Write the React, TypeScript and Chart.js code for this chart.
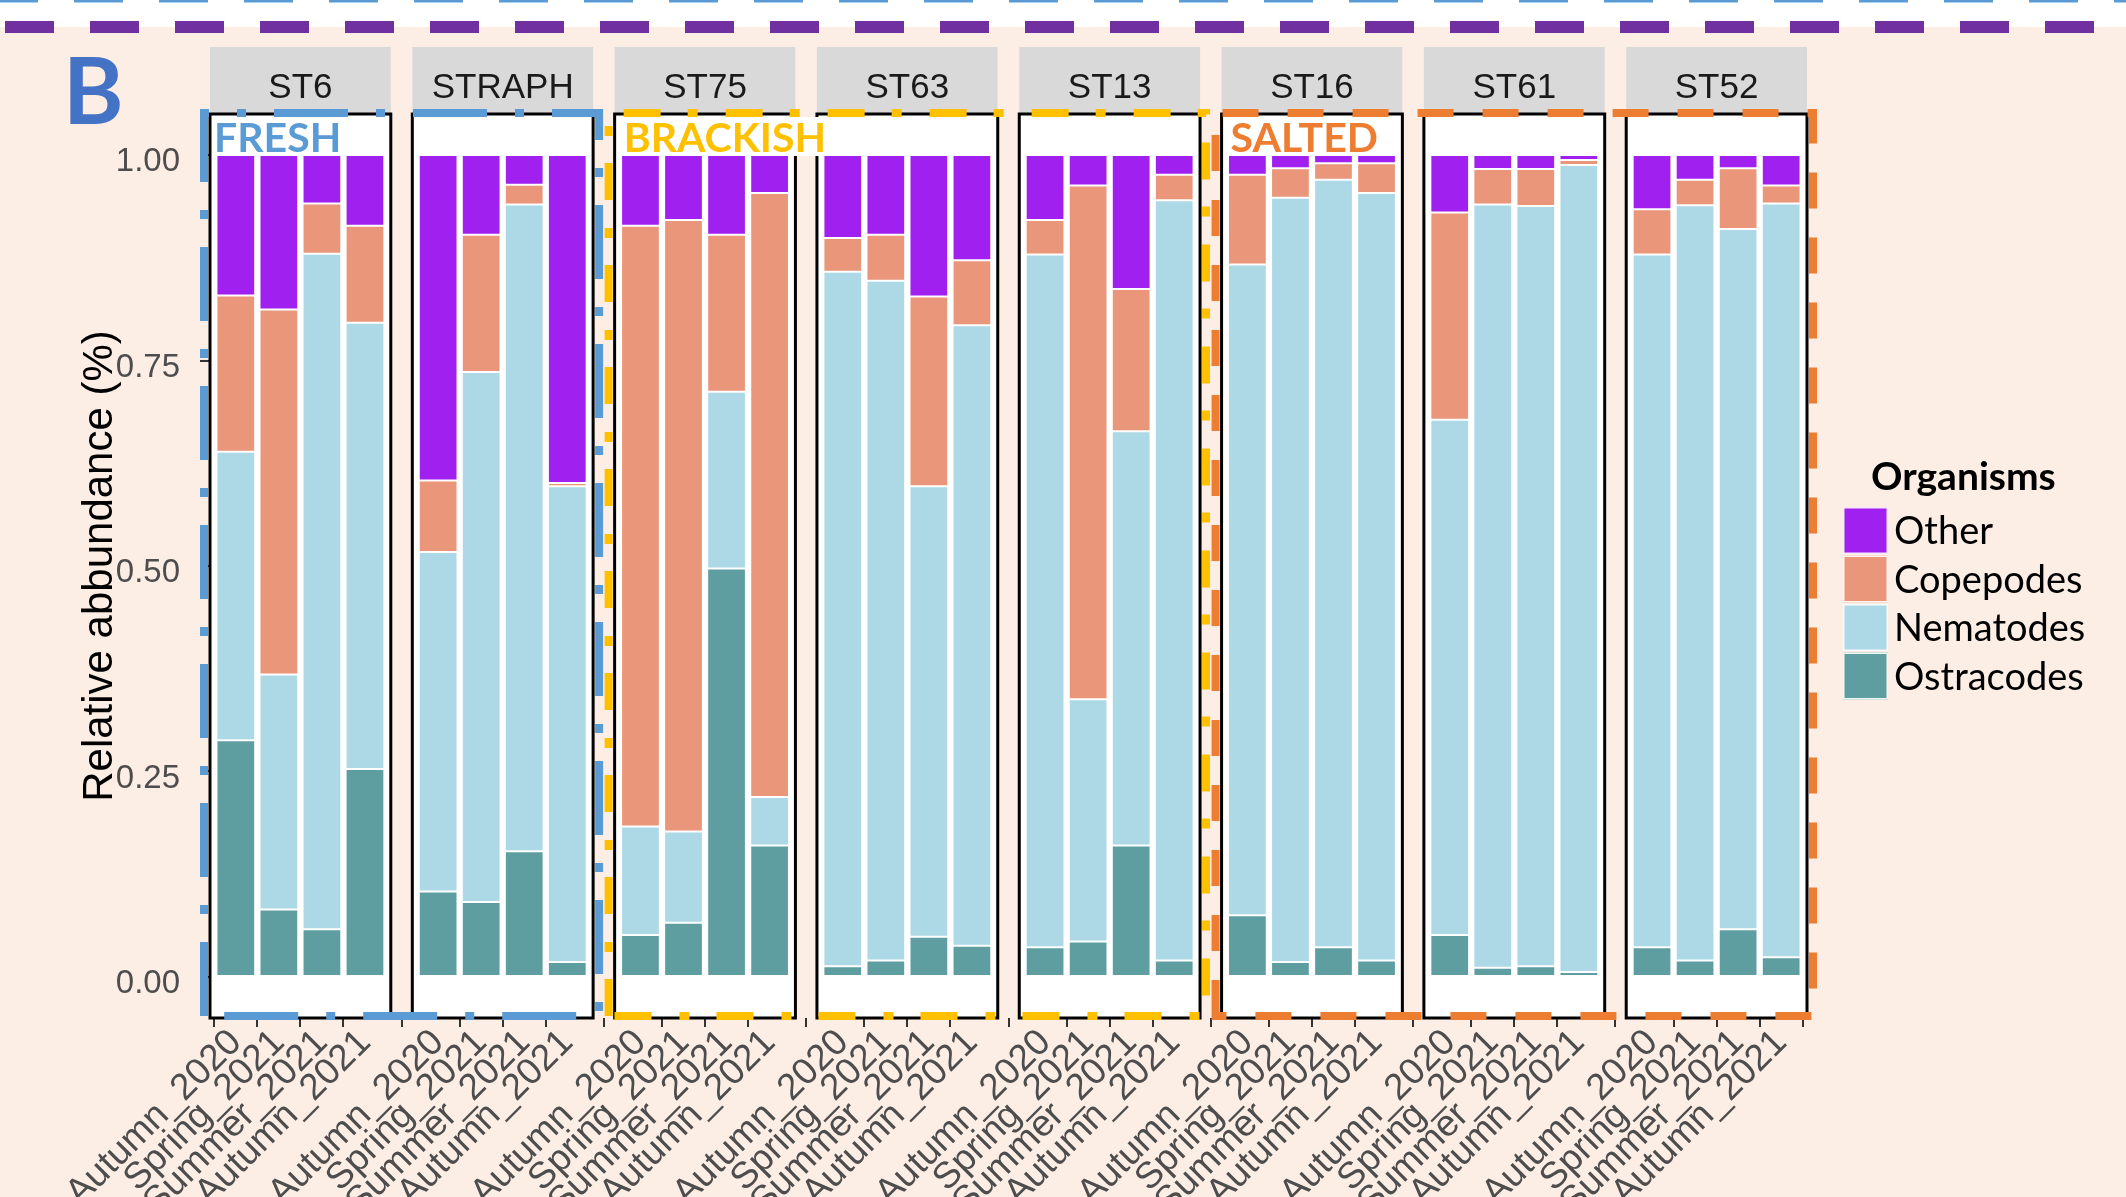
import React, { useEffect, useRef } from "react";
import { Chart, registerables } from "chart.js";

Chart.register(...registerables);

const W = 2126;
const H = 1197;

// ---------- data ----------
const stations = ["ST6", "STRAPH", "ST75", "ST63", "ST13", "ST16", "ST61", "ST52"];
const seasons = ["Autumn_2020", "Spring_2021", "Summer_2021", "Autumn_2021"];
const yTickValues = [0, 0.25, 0.5, 0.75, 1.0];

// values ordered station by station, 4 seasons each
const ostracodes = [
  0.288, 0.082, 0.058, 0.253,
  0.104, 0.091, 0.153, 0.018,
  0.051, 0.066, 0.497, 0.160,
  0.013, 0.020, 0.049, 0.038,
  0.036, 0.043, 0.160, 0.020,
  0.075, 0.018, 0.036, 0.020,
  0.051, 0.011, 0.013, 0.006,
  0.036, 0.020, 0.058, 0.024,
];
const nematodes = [
  0.351, 0.286, 0.822, 0.543,
  0.413, 0.645, 0.787, 0.579,
  0.132, 0.111, 0.215, 0.059,
  0.845, 0.827, 0.548, 0.755,
  0.843, 0.295, 0.504, 0.925,
  0.792, 0.930, 0.934, 0.934,
  0.627, 0.929, 0.925, 0.982,
  0.843, 0.919, 0.852, 0.917,
];
const copepodes = [
  0.190, 0.444, 0.061, 0.118,
  0.087, 0.167, 0.024, 0.004,
  0.731, 0.744, 0.191, 0.735,
  0.041, 0.056, 0.231, 0.079,
  0.042, 0.625, 0.173, 0.031,
  0.109, 0.036, 0.020, 0.036,
  0.252, 0.043, 0.045, 0.006,
  0.055, 0.031, 0.074, 0.022,
];
const other = [
  0.171, 0.188, 0.059, 0.086,
  0.396, 0.097, 0.036, 0.399,
  0.086, 0.079, 0.097, 0.046,
  0.101, 0.097, 0.172, 0.128,
  0.079, 0.037, 0.163, 0.024,
  0.024, 0.016, 0.010, 0.010,
  0.070, 0.017, 0.017, 0.006,
  0.066, 0.030, 0.016, 0.037,
];

const legendOrder = ["Other", "Copepodes", "Nematodes", "Ostracodes"];
const colorOf: Record<string, string> = {
  Other: "#A020F0",
  Copepodes: "#E9967A",
  Nematodes: "#ADD8E6",
  Ostracodes: "#5F9EA0",
};

const groups = [
  { label: "FRESH", first: 0, last: 1, color: "#5B9BD5", dash: [74, 28, 9, 28] },
  { label: "BRACKISH", first: 2, last: 4, color: "#FFC000", dash: [37, 27, 10, 28] },
  { label: "SALTED", first: 5, last: 7, color: "#ED7D31", dash: [36, 29] },
];

// ---------- facet geometry (in x-scale units) ----------
const PANEL = 4.2; // 4 categories + 0.6 expansion each side
const GAP = 0.5;
const STEP = PANEL + GAP;
const FIRST_OFFSET = 0.6;
const TOTAL = stations.length * PANEL + (stations.length - 1) * GAP;
const xPositions = ostracodes.map(
  (_, i) => Math.floor(i / seasons.length) * STEP + FIRST_OFFSET + (i % seasons.length)
);

const SANS = "'Liberation Sans', Arial, sans-serif";
const CAL = "Lato, 'Open Sans', sans-serif";

const facetPlugin = {
  id: "facets",
  beforeDraw(chart: any) {
    const { ctx, chartArea } = chart;
    const xs = chart.scales.x;
    ctx.save();
    ctx.fillStyle = "#FFFFFF";
    ctx.fillRect(0, 0, W, 27);
    ctx.fillStyle = "#FCEEE5";
    ctx.fillRect(0, 27, W, H - 27);
    stations.forEach((name, p) => {
      const l = xs.getPixelForValue(p * STEP);
      const r = xs.getPixelForValue(p * STEP + PANEL);
      ctx.fillStyle = "#FFFFFF";
      ctx.fillRect(l, chartArea.top, r - l, chartArea.bottom - chartArea.top);
      ctx.fillStyle = "#D9D9D9";
      ctx.fillRect(l, 47, r - l, chartArea.top - 47);
      ctx.fillStyle = "#1A1A1A";
      ctx.font = `35px ${SANS}`;
      ctx.textAlign = "center";
      ctx.textBaseline = "middle";
      ctx.fillText(name, (l + r) / 2, 88);
    });
    ctx.restore();
  },
  afterDatasetsDraw(chart: any) {
    const { ctx, chartArea } = chart;
    const xs = chart.scales.x;
    ctx.save();
    ctx.strokeStyle = "#000000";
    ctx.lineWidth = 3;
    stations.forEach((_, p) => {
      const l = xs.getPixelForValue(p * STEP);
      const r = xs.getPixelForValue(p * STEP + PANEL);
      ctx.strokeRect(l, chartArea.top, r - l, chartArea.bottom - chartArea.top);
    });
    ctx.restore();
  },
  afterDraw(chart: any) {
    const { ctx, chartArea } = chart;
    const xs = chart.scales.x;
    ctx.save();
    // group frames
    groups.forEach((g) => {
      const l = xs.getPixelForValue(g.first * STEP) - 6;
      const r = xs.getPixelForValue(g.last * STEP + PANEL) + 6;
      const t = chartArea.top - 1;
      const b = chartArea.bottom - 2;
      ctx.setLineDash(g.dash);
      ctx.lineDashOffset = 0;
      ctx.lineWidth = 8;
      ctx.lineCap = "butt";
      ctx.strokeStyle = g.color;
      ctx.beginPath();
      ctx.moveTo(l, b);
      ctx.lineTo(l, t);
      ctx.lineTo(r, t);
      ctx.lineTo(r, b);
      ctx.closePath();
      ctx.stroke();
    });
    ctx.setLineDash([]);
    // group labels
    groups.forEach((g, k) => {
      const l = xs.getPixelForValue(g.first * STEP) - 6;
      const tx = l + (k === 0 ? 10 : 15);
      ctx.font = `bold 41px ${CAL}`;
      const w = ctx.measureText(g.label).width;
      ctx.fillStyle = "#FFFFFF";
      ctx.fillRect(tx - 2, 117, w + 4, 39);
      ctx.fillStyle = g.color;
      ctx.textAlign = "left";
      ctx.textBaseline = "alphabetic";
      ctx.fillText(g.label, tx, 152);
    });
    // panel letter
    ctx.fillStyle = "#4472C4";
    ctx.font = `bold 92px ${CAL}`;
    ctx.textAlign = "left";
    ctx.textBaseline = "alphabetic";
    ctx.fillText("B", 63, 124);
    // top dashed lines
    ctx.lineCap = "butt";
    ctx.setLineDash([49, 36]);
    ctx.lineDashOffset = 11;
    ctx.strokeStyle = "#5B9BD5";
    ctx.lineWidth = 5;
    ctx.beginPath();
    ctx.moveTo(0, 0);
    ctx.lineTo(W, 0);
    ctx.stroke();
    ctx.lineDashOffset = 0;
    ctx.strokeStyle = "#7030A0";
    ctx.lineWidth = 12;
    ctx.beginPath();
    ctx.moveTo(5, 27);
    ctx.lineTo(W, 27);
    ctx.stroke();
    ctx.setLineDash([]);
    // legend
    ctx.fillStyle = "#000000";
    ctx.font = `bold 39px ${CAL}`;
    ctx.textAlign = "left";
    ctx.textBaseline = "alphabetic";
    ctx.fillText("Organisms", 1871, 490);
    legendOrder.forEach((name, k) => {
      const y = 507 + k * 48.5;
      ctx.fillStyle = colorOf[name];
      ctx.fillRect(1843, y, 45, 47);
      ctx.strokeStyle = "rgba(255,255,255,0.9)";
      ctx.lineWidth = 1.5;
      ctx.strokeRect(1843.75, y + 0.75, 43.5, 45.5);
      ctx.fillStyle = "#000000";
      ctx.font = `38px ${CAL}`;
      ctx.textBaseline = "middle";
      ctx.fillText(name, 1894, y + 25);
    });
    ctx.restore();
  },
};

export default function App() {
  const ref = useRef<HTMLCanvasElement | null>(null);

  useEffect(() => {
    document.body.style.margin = "0";
    document.body.style.overflow = "hidden";
    const stackOrder = [
      { label: "Ostracodes", values: ostracodes },
      { label: "Nematodes", values: nematodes },
      { label: "Copepodes", values: copepodes },
      { label: "Other", values: other },
    ];
    const chart = new Chart(ref.current as HTMLCanvasElement, {
      type: "bar",
      data: {
        datasets: stackOrder.map((s) => ({
          label: s.label,
          data: s.values.map((v, i) => ({ x: xPositions[i], y: v })),
          backgroundColor: colorOf[s.label],
          borderColor: "rgba(255,255,255,0.85)",
          borderWidth: 1,
          borderSkipped: false,
          barPercentage: 0.9,
          categoryPercentage: 1,
        })),
      },
      options: {
        responsive: false,
        animation: false,
        devicePixelRatio: 1,
        layout: { padding: { left: 0, top: 114, right: 319, bottom: 0 } },
        plugins: {
          legend: { display: false },
          tooltip: { enabled: false },
        },
        scales: {
          x: {
            type: "linear",
            stacked: true,
            min: 0,
            max: TOTAL,
            offset: false,
            afterBuildTicks: (s: any) => {
              s.ticks = xPositions.map((v) => ({ value: v }));
            },
            afterFit: (s: any) => {
              s.height = H - 1018;
            },
            grid: {
              display: true,
              drawOnChartArea: false,
              drawTicks: true,
              tickLength: 9,
              color: "#333333",
              lineWidth: 2,
            },
            border: { display: false },
            ticks: {
              autoSkip: false,
              minRotation: 45,
              maxRotation: 45,
              padding: -6,
              color: "#4D4D4D",
              font: { family: SANS, size: 37 },
              callback: (_v: any, i: number) => seasons[i % seasons.length],
            },
          },
          y: {
            stacked: true,
            min: -0.05,
            max: 1.05,
            afterBuildTicks: (s: any) => {
              s.ticks = yTickValues.map((v) => ({ value: v }));
            },
            afterFit: (s: any) => {
              s.width = 210;
            },
            grid: {
              display: true,
              drawOnChartArea: false,
              drawTicks: true,
              tickLength: 10,
              color: "#333333",
              lineWidth: 2,
            },
            border: { display: false },
            ticks: {
              padding: 20,
              labelOffset: 7,
              color: "#4D4D4D",
              font: { family: SANS, size: 33 },
              callback: (v: any) => Number(v).toFixed(2),
            },
            title: {
              display: true,
              text: "Relative abbundance (%)",
              color: "#000000",
              font: { family: SANS, size: 42 },
              padding: { top: 75, bottom: 0 },
            },
          },
        },
      },
      plugins: [facetPlugin],
    } as any);
    return () => chart.destroy();
  }, []);

  return (
    <div style={{ position: "absolute", left: 0, top: 0, width: W, height: H, overflow: "hidden" }}>
      <canvas ref={ref} width={W} height={H} style={{ width: W, height: H, display: "block" }} />
    </div>
  );
}
